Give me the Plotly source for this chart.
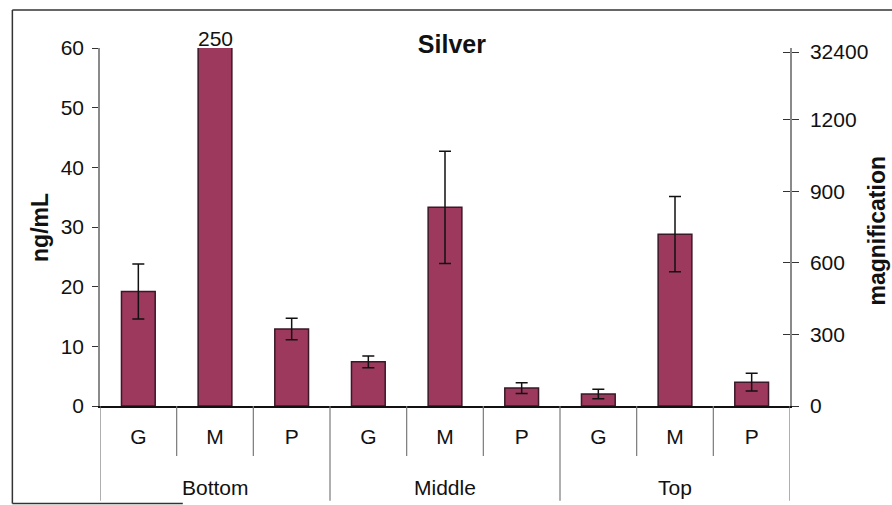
import plotly.graph_objects as go

# ---- data ----
groups = ["Bottom", "Middle", "Top"]
samples = ["G", "M", "P"]
conc = [19.2, 250, 12.9, 7.4, 33.3, 3.0, 2.0, 28.8, 4.0]        # ng/mL
conc_err = [4.6, 0, 1.8, 1.0, 9.4, 0.9, 0.8, 6.3, 1.5]
left_ticks = [0, 10, 20, 30, 40, 50, 60]
right_tickvals = [0, 300, 600, 900, 1200, 1485]
right_ticktext = ["0", "300", "600", "900", "1200", "32400"]

FONT = "Liberation Sans, Arial, sans-serif"
BAR = "#9c395c"
EDGE = "#3a1828"

n = len(conc)
xs = list(range(n))
ticktext = [s for g in groups for s in samples]

fig = go.Figure()
fig.add_trace(go.Bar(
    x=xs, y=conc, width=0.44,
    marker=dict(color=BAR, line=dict(color=EDGE, width=1.5)),
    error_y=dict(type="data", array=conc_err, color="#111111", thickness=1.5, width=6),
    showlegend=False,
))
# invisible traces to bring up the right axes
fig.add_trace(go.Scatter(x=[0], y=[None], yaxis="y2", showlegend=False, hoverinfo="skip"))
fig.add_trace(go.Scatter(x=[0], y=[None], yaxis="y3", showlegend=False, hoverinfo="skip"))

tickfont = dict(family=FONT, size=21, color="#111111")

fig.update_layout(
    width=892, height=505,
    margin=dict(l=100, r=102, t=48, b=99),
    paper_bgcolor="white", plot_bgcolor="white",
    font=dict(family=FONT, color="#111111"),
    title=dict(text="<b>Silver</b>", x=0.51, xref="paper", xanchor="center",
               y=1 - 44 / 505, yanchor="middle", font=dict(size=25)),
    xaxis=dict(range=[-0.5, n - 0.5], tickvals=xs, ticktext=ticktext,
               showline=True, linecolor="#111111", linewidth=1.5,
               ticks="", showgrid=False, zeroline=False,
               tickfont=tickfont, ticklabelstandoff=11),
    yaxis=dict(range=[0, 60], tickvals=left_ticks, showline=True,
               linecolor="#8a8a8a", linewidth=1.5, ticks="outside", ticklen=6,
               tickcolor="#333333", tickwidth=1.2,
               showgrid=False, zeroline=False, tickfont=tickfont,
               ticklabelstandoff=4),
    yaxis2=dict(range=[0, 1502], overlaying="y", side="right",
                tickvals=right_tickvals, ticktext=right_ticktext,
                showline=True, linecolor="#8a8a8a", linewidth=1.5,
                ticks="outside", ticklen=7, tickcolor="#333333", tickwidth=1.2,
                showgrid=False, zeroline=False, tickfont=tickfont,
                ticklabelstandoff=7),
    yaxis3=dict(range=[0, 1502], overlaying="y", side="right",
                tickvals=right_tickvals, showticklabels=False,
                ticks="inside", ticklen=7, tickcolor="#333333", tickwidth=1.2,
                showgrid=False, zeroline=False, showline=False),
)

# off-scale value label above clipped bar
fig.add_annotation(x=1, y=60, xref="x", yref="y", text=str(conc[1]),
                   showarrow=False, yanchor="bottom", yshift=-4,
                   font=dict(size=21, family=FONT))

# group labels
for gi, g in enumerate(groups):
    fig.add_annotation(x=gi * 3 + 1, y=-0.227, xref="x", yref="paper", text=g,
                       showarrow=False, yanchor="middle", xanchor="center",
                       font=dict(size=21, family=FONT))

# axis titles
fig.add_annotation(x=-0.087, y=0.5, xref="paper", yref="paper", text="<b>ng/mL</b>",
                   textangle=-90, showarrow=False, xanchor="center", yanchor="middle",
                   font=dict(size=23, family=FONT))
fig.add_annotation(x=1.126, y=0.49, xref="paper", yref="paper", text="<b>magnification</b>",
                   textangle=-90, showarrow=False, xanchor="center", yanchor="middle",
                   font=dict(size=23, family=FONT))

# category separators under the axis
line_style = dict(color="#7a7a7a", width=1.2)
for b in range(n + 1):
    xb = b - 0.5
    long_ = (b % 3 == 0)
    fig.add_shape(type="line", xref="x", yref="paper", x0=xb, x1=xb,
                  y0=0, y1=(-0.265 if long_ else -0.14), line=line_style)

# scanned page frame
frame = dict(color="#333333", width=1.5)
fig.add_shape(type="line", xref="paper", yref="paper", x0=-0.127, x1=1.15,
              y0=1.106, y1=1.106, line=frame)
fig.add_shape(type="line", xref="paper", yref="paper", x0=-0.127, x1=-0.127,
              y0=1.106, y1=-0.272, line=frame)
fig.add_shape(type="line", xref="paper", yref="paper", x0=-0.127, x1=0.12,
              y0=-0.272, y1=-0.272, line=frame)

fig.write_html("out.html", config={"displayModeBar": False},
               post_script="document.body.style.margin='0';")
